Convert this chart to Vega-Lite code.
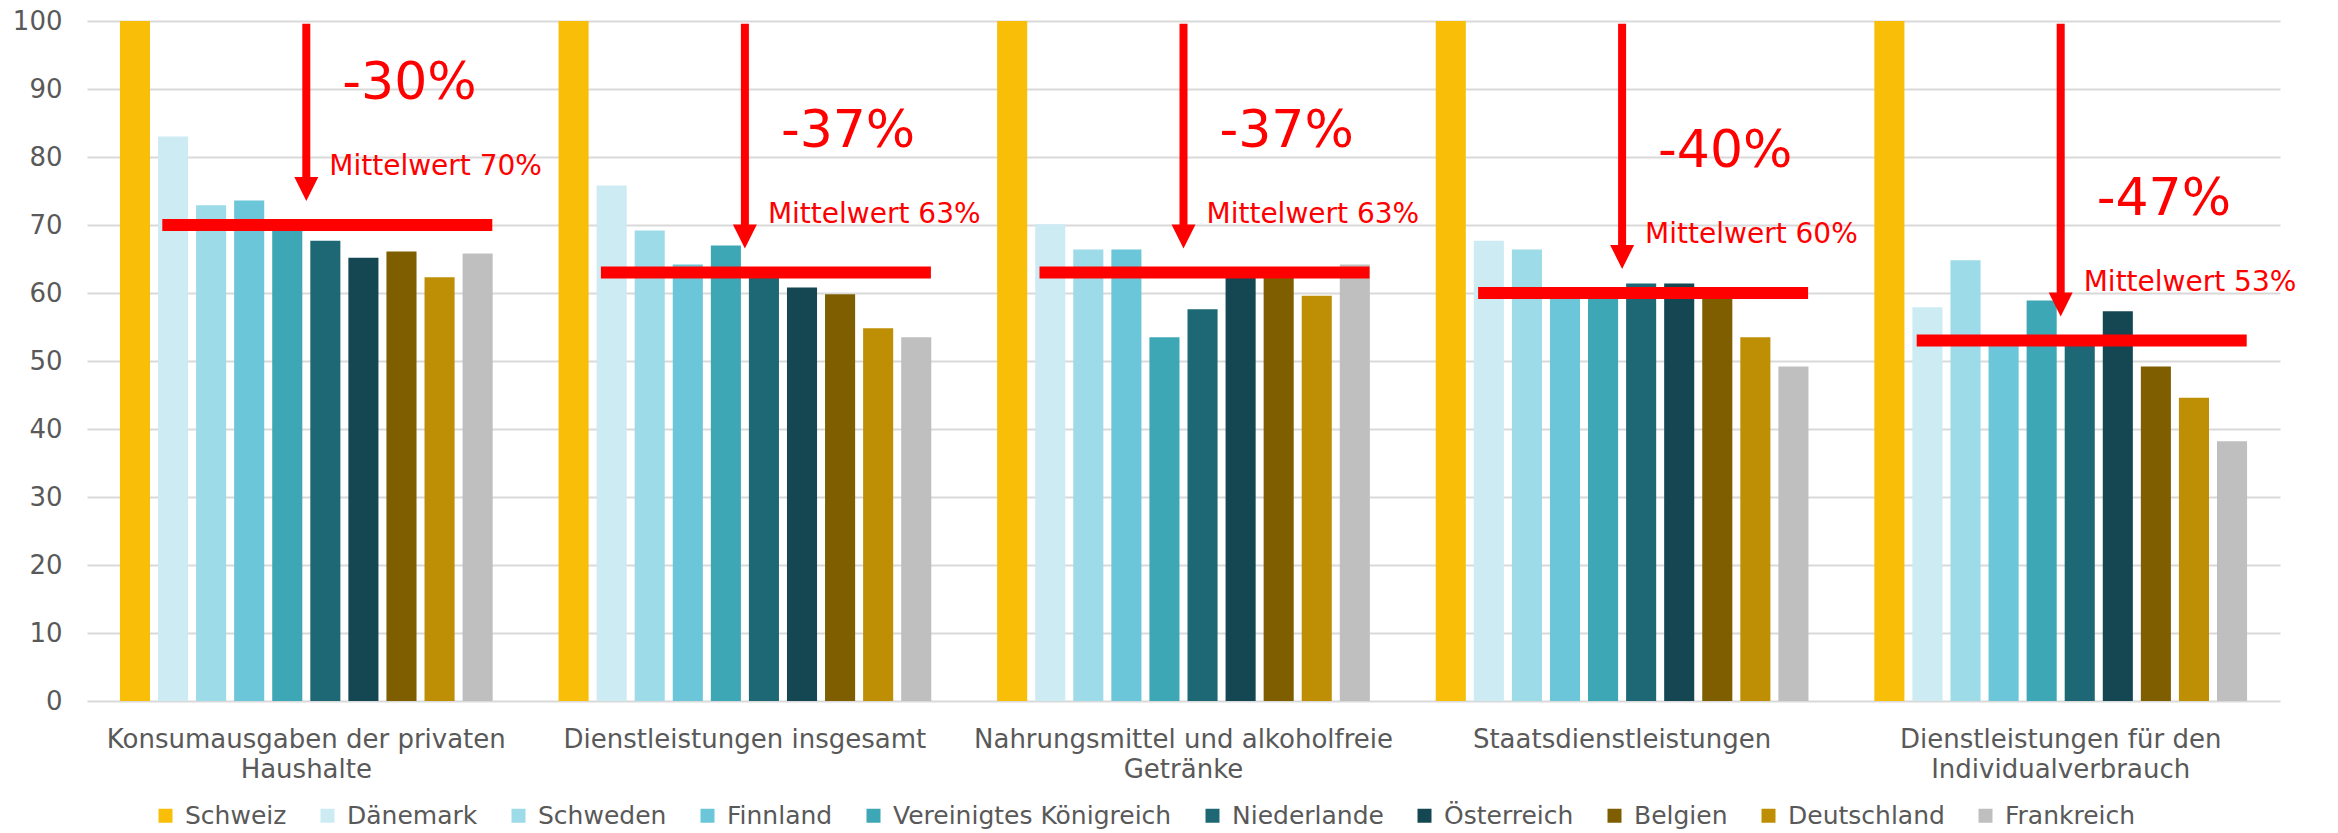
{
  "$schema": "https://vega.github.io/schema/vega-lite/v6.json",
  "autosize": {"type": "none"},
  "padding": {"left": 87, "top": 21, "right": 58, "bottom": 132},
  "width": 2193,
  "height": 680,
  "background": "white",
  "config": {
    "font": "DejaVu Sans",
    "view": {"stroke": null},
    "axis": {"labelFont": "DejaVu Sans", "labelColor": "#595959", "labelFontSize": 26},
    "legend": {"labelFont": "DejaVu Sans", "labelColor": "#595959", "labelFontSize": 25}
  },
  "datasets": {
    "bars": [
      {"category": "Konsumausgaben der privaten Haushalte", "country": "Schweiz", "value": 100},
      {"category": "Konsumausgaben der privaten Haushalte", "country": "Dänemark", "value": 83.0},
      {"category": "Konsumausgaben der privaten Haushalte", "country": "Schweden", "value": 72.9},
      {"category": "Konsumausgaben der privaten Haushalte", "country": "Finnland", "value": 73.6},
      {"category": "Konsumausgaben der privaten Haushalte", "country": "Vereinigtes Königreich", "value": 70.0},
      {"category": "Konsumausgaben der privaten Haushalte", "country": "Niederlande", "value": 67.7},
      {"category": "Konsumausgaben der privaten Haushalte", "country": "Österreich", "value": 65.2},
      {"category": "Konsumausgaben der privaten Haushalte", "country": "Belgien", "value": 66.1},
      {"category": "Konsumausgaben der privaten Haushalte", "country": "Deutschland", "value": 62.3},
      {"category": "Konsumausgaben der privaten Haushalte", "country": "Frankreich", "value": 65.8},
      {"category": "Dienstleistungen insgesamt", "country": "Schweiz", "value": 100},
      {"category": "Dienstleistungen insgesamt", "country": "Dänemark", "value": 75.8},
      {"category": "Dienstleistungen insgesamt", "country": "Schweden", "value": 69.2},
      {"category": "Dienstleistungen insgesamt", "country": "Finnland", "value": 64.2},
      {"category": "Dienstleistungen insgesamt", "country": "Vereinigtes Königreich", "value": 67.0},
      {"category": "Dienstleistungen insgesamt", "country": "Niederlande", "value": 63.0},
      {"category": "Dienstleistungen insgesamt", "country": "Österreich", "value": 60.8},
      {"category": "Dienstleistungen insgesamt", "country": "Belgien", "value": 59.8},
      {"category": "Dienstleistungen insgesamt", "country": "Deutschland", "value": 54.8},
      {"category": "Dienstleistungen insgesamt", "country": "Frankreich", "value": 53.5},
      {"category": "Nahrungsmittel und alkoholfreie Getränke", "country": "Schweiz", "value": 100},
      {"category": "Nahrungsmittel und alkoholfreie Getränke", "country": "Dänemark", "value": 70.1},
      {"category": "Nahrungsmittel und alkoholfreie Getränke", "country": "Schweden", "value": 66.4},
      {"category": "Nahrungsmittel und alkoholfreie Getränke", "country": "Finnland", "value": 66.4},
      {"category": "Nahrungsmittel und alkoholfreie Getränke", "country": "Vereinigtes Königreich", "value": 53.5},
      {"category": "Nahrungsmittel und alkoholfreie Getränke", "country": "Niederlande", "value": 57.6},
      {"category": "Nahrungsmittel und alkoholfreie Getränke", "country": "Österreich", "value": 63.0},
      {"category": "Nahrungsmittel und alkoholfreie Getränke", "country": "Belgien", "value": 63.0},
      {"category": "Nahrungsmittel und alkoholfreie Getränke", "country": "Deutschland", "value": 59.6},
      {"category": "Nahrungsmittel und alkoholfreie Getränke", "country": "Frankreich", "value": 64.2},
      {"category": "Staatsdienstleistungen", "country": "Schweiz", "value": 100},
      {"category": "Staatsdienstleistungen", "country": "Dänemark", "value": 67.7},
      {"category": "Staatsdienstleistungen", "country": "Schweden", "value": 66.4},
      {"category": "Staatsdienstleistungen", "country": "Finnland", "value": 59.2},
      {"category": "Staatsdienstleistungen", "country": "Vereinigtes Königreich", "value": 59.2},
      {"category": "Staatsdienstleistungen", "country": "Niederlande", "value": 61.4},
      {"category": "Staatsdienstleistungen", "country": "Österreich", "value": 61.4},
      {"category": "Staatsdienstleistungen", "country": "Belgien", "value": 59.2},
      {"category": "Staatsdienstleistungen", "country": "Deutschland", "value": 53.5},
      {"category": "Staatsdienstleistungen", "country": "Frankreich", "value": 49.2},
      {"category": "Dienstleistungen für den Individualverbrauch", "country": "Schweiz", "value": 100},
      {"category": "Dienstleistungen für den Individualverbrauch", "country": "Dänemark", "value": 57.9},
      {"category": "Dienstleistungen für den Individualverbrauch", "country": "Schweden", "value": 64.8},
      {"category": "Dienstleistungen für den Individualverbrauch", "country": "Finnland", "value": 52.5},
      {"category": "Dienstleistungen für den Individualverbrauch", "country": "Vereinigtes Königreich", "value": 58.9},
      {"category": "Dienstleistungen für den Individualverbrauch", "country": "Niederlande", "value": 52.5},
      {"category": "Dienstleistungen für den Individualverbrauch", "country": "Österreich", "value": 57.3},
      {"category": "Dienstleistungen für den Individualverbrauch", "country": "Belgien", "value": 49.2},
      {"category": "Dienstleistungen für den Individualverbrauch", "country": "Deutschland", "value": 44.6},
      {"category": "Dienstleistungen für den Individualverbrauch", "country": "Frankreich", "value": 38.2}
    ],
    "means": [
      {"category": "Konsumausgaben der privaten Haushalte", "mean": 70, "change": "-30%", "label": "Mittelwert 70%"},
      {"category": "Dienstleistungen insgesamt", "mean": 63, "change": "-37%", "label": "Mittelwert 63%"},
      {"category": "Nahrungsmittel und alkoholfreie Getränke", "mean": 63, "change": "-37%", "label": "Mittelwert 63%"},
      {"category": "Staatsdienstleistungen", "mean": 60, "change": "-40%", "label": "Mittelwert 60%"},
      {"category": "Dienstleistungen für den Individualverbrauch", "mean": 53, "change": "-47%", "label": "Mittelwert 53%"}
    ]
  },
  "encoding": {
    "x": {
      "field": "category",
      "type": "nominal",
      "sort": ["Konsumausgaben der privaten Haushalte", "Dienstleistungen insgesamt", "Nahrungsmittel und alkoholfreie Getränke", "Staatsdienstleistungen", "Dienstleistungen für den Individualverbrauch"],
      "scale": {"paddingInner": 0, "paddingOuter": 0},
      "axis": {
        "title": null,
        "domain": false,
        "ticks": false,
        "labelAngle": 0,
        "labelLimit": 600,
        "labelPadding": 25,
        "labelBaseline": "top",
        "labelLineHeight": 30,
        "labelExpr": "datum.value == 'Konsumausgaben der privaten Haushalte' ? ['Konsumausgaben der privaten', 'Haushalte'] : datum.value == 'Nahrungsmittel und alkoholfreie Getränke' ? ['Nahrungsmittel und alkoholfreie', 'Getränke'] : datum.value == 'Dienstleistungen für den Individualverbrauch' ? ['Dienstleistungen für den', 'Individualverbrauch'] : datum.label"
      }
    }
  },
  "layer": [
    {
      "data": {"name": "bars"},
      "mark": {"type": "bar", "opacity": 1},
      "encoding": {
        "y": {
          "field": "value",
          "type": "quantitative",
          "scale": {"domain": [0, 100], "nice": false},
          "axis": {
            "title": null,
            "values": [0, 10, 20, 30, 40, 50, 60, 70, 80, 90, 100],
            "domain": false,
            "ticks": false,
            "grid": true,
            "gridColor": "#D9D9D9",
            "gridWidth": 2,
            "labelPadding": 25
          }
        },
        "xOffset": {
          "field": "country",
          "type": "nominal",
          "sort": ["Schweiz", "Dänemark", "Schweden", "Finnland", "Vereinigtes Königreich", "Niederlande", "Österreich", "Belgien", "Deutschland", "Frankreich"],
          "scale": {"paddingInner": 0.21, "paddingOuter": 0.865}
        },
        "color": {
          "field": "country",
          "type": "nominal",
          "scale": {
            "domain": ["Schweiz", "Dänemark", "Schweden", "Finnland", "Vereinigtes Königreich", "Niederlande", "Österreich", "Belgien", "Deutschland", "Frankreich"],
            "range": ["#F8BE08", "#CCEBF3", "#9CDBE7", "#6AC6D8", "#3EA7B6", "#1E6875", "#154752", "#7F5E00", "#BE8E05", "#BFBFBF"]
          },
          "legend": {
            "title": null,
            "orient": "none",
            "direction": "horizontal",
            "legendX": 66,
            "legendY": 782,
            "symbolType": "square",
            "symbolSize": 196,
            "symbolStrokeWidth": 0,
            "labelOffset": 7,
            "columnPadding": 28,
            "labelLimit": 400
          }
        }
      }
    },
    {
      "data": {"name": "means"},
      "mark": {"type": "tick", "color": "#FF0000", "thickness": 12, "size": 330, "xOffset": 21, "opacity": 1},
      "encoding": {
        "y": {"field": "mean", "type": "quantitative"}
      }
    },
    {
      "data": {"name": "means"},
      "mark": {"type": "rule", "color": "#FF0000", "strokeWidth": 8, "yOffset": -40, "strokeCap": "butt"},
      "encoding": {
        "y": {"field": "mean", "type": "quantitative"},
        "y2": {"datum": 99.6}
      }
    },
    {
      "data": {"name": "means"},
      "mark": {"type": "point", "shape": "M-1,-1L1,-1L0,1Z", "size": 576, "filled": true, "color": "#FF0000", "opacity": 1, "strokeWidth": 0, "yOffset": -36},
      "encoding": {
        "y": {"field": "mean", "type": "quantitative"}
      }
    },
    {
      "data": {"name": "means"},
      "mark": {"type": "text", "color": "#FF0000", "fontSize": 52, "align": "left", "baseline": "alphabetic", "dx": 36, "dy": -126},
      "encoding": {
        "y": {"field": "mean", "type": "quantitative"},
        "text": {"field": "change"}
      }
    },
    {
      "data": {"name": "means"},
      "mark": {"type": "text", "color": "#FF0000", "fontSize": 28, "align": "left", "baseline": "alphabetic", "dx": 23, "dy": -50},
      "encoding": {
        "y": {"field": "mean", "type": "quantitative"},
        "text": {"field": "label"}
      }
    }
  ]
}
